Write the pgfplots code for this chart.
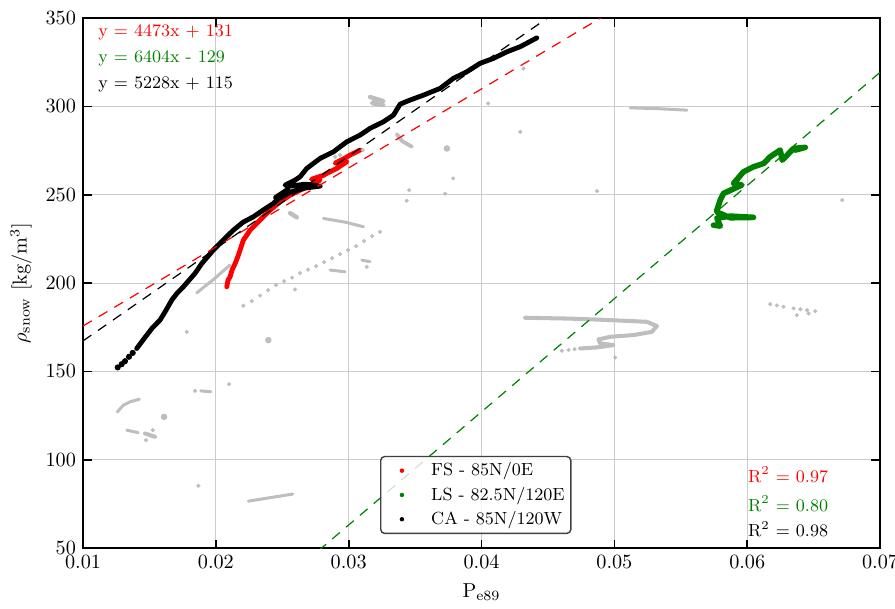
\documentclass[border=0pt]{standalone}
\usepackage{pgfplots}
\pgfplotsset{compat=1.18}
\definecolor{ptgray}{RGB}{190,190,190}
\definecolor{ptgreen}{RGB}{0,128,0}
\newcommand\lbl{\fontsize{8.7}{10.4}\selectfont}
\begin{document}
\begin{tikzpicture}
\useasboundingbox (-41.1pt,-29.7pt) rectangle (401.9pt,271.3pt);
\begin{axis}[
  at={(0pt,0pt)}, anchor=south west,
  scale only axis, width=394.5pt, height=262.35pt,
  xmin=0.01, xmax=0.07, ymin=50, ymax=350,
  xtick={0.01,0.02,0.03,0.04,0.05,0.06,0.07},
  xticklabels={0.01,0.02,0.03,0.04,0.05,0.06,0.07},
  ytick={50,100,150,200,250,300,350},
  scaled ticks=false,
  grid=major, major grid style={black!20, line width=0.6pt},
  axis line style={line width=1pt},
  tick style={black, line width=0.8pt},
  xlabel={P$_{\mathrm{e89}}$}, ylabel={$\rho_{\mathrm{snow}}$ [kg/m$^3$]},
  legend style={at={(0.3726,0.0264)}, anchor=south west, draw=black!75, rounded corners=2pt,
    fill=white, fill opacity=0.8, text opacity=1, draw opacity=1, font=\lbl,
    inner sep=1.5pt, nodes={inner sep=1.5pt}, row sep=1pt, line width=0.7pt},
  legend cell align=left,
  legend image code/.code={\path[draw=none, fill=none] (0pt,-0.5pt) rectangle (22pt,0.5pt); \fill[#1, draw=none, fill opacity=1] (9pt,0pt) circle (1.1pt);},
  grayseg/.style={ptgray, line width=1.5pt, line cap=round, line join=round, mark=none, forget plot},
  graydot/.style={ptgray, only marks, mark=*, mark size=0.8pt, forget plot},
]
% ---- gray background data ----
\addplot[grayseg] coordinates {(0.01856,194.5)(0.01919,198.3)(0.01994,202.8)(0.02054,206.8)(0.02107,210.2)};
\addplot[graydot] coordinates {(0.02207,187.2)(0.02270,189.8)(0.02333,192.9)(0.02393,196.0)(0.02453,198.9)(0.02514,201.1)(0.02574,203.1)(0.02634,205.7)(0.02694,207.6)(0.02755,209.6)(0.02815,211.9)(0.02875,214.1)(0.02935,216.4)(0.02995,218.7)(0.03056,220.9)(0.03116,223.8)(0.03176,226.6)(0.03236,229.0)};
\addplot[grayseg] coordinates {(0.02810,236.6)(0.02973,234.5)(0.03111,231.9)};
\addplot[grayseg, line width=2.2pt] coordinates {(0.02559,239.6)(0.02609,237.2)};
\addplot[grayseg] coordinates {(0.02258,237.5)(0.02333,238.5)};
\addplot[grayseg] coordinates {(0.02860,207.4)(0.02973,206.4)};
\addplot[grayseg] coordinates {(0.03099,213.0)(0.03161,212.1)};
\addplot[grayseg, line width=2.2pt] coordinates {(0.03161,305.3)(0.03261,303.0)(0.03176,301.9)(0.03259,300.8)};
\addplot[grayseg, line width=1.9pt] coordinates {(0.03362,284.3)(0.03402,280.4)(0.03475,277.2)};
\addplot[graydot, mark size=1.4pt] coordinates {(0.03739,276.2)(0.02395,167.7)(0.01610,124.3)};
\addplot[graydot] coordinates {(0.04316,321.5)(0.04050,301.7)(0.04291,285.6)(0.03786,259.3)(0.03455,252.6)(0.03726,250.6)(0.03437,246.6)(0.04870,252.1)(0.02935,272.5)(0.02898,271.5)(0.03106,275.3)(0.02596,196.4)(0.01781,172.4)(0.06715,247.0)(0.01843,139.0)(0.02099,142.8)(0.01868,85.3)(0.05006,157.9)(0.03136,209.2)(0.01474,111.1)(0.01525,116.8)};
\addplot[grayseg] coordinates {(0.05119,299.2)(0.05307,298.8)(0.05546,297.9)};
\addplot[grayseg, line width=2pt] coordinates {(0.04328,180.4)(0.04667,179.9)(0.04893,179.3)(0.05245,178.1)(0.05320,175.7)(0.05282,172.4)(0.05144,170.6)(0.04968,169.6)(0.04880,168.1)(0.04893,165.9)(0.04993,164.9)(0.04868,163.6)(0.04742,163.0)};
\addplot[graydot] coordinates {(0.04700,162.6)(0.04655,162.2)(0.04605,161.7)(0.06173,188.1)(0.06223,187.4)(0.06273,186.6)(0.06349,185.7)(0.06400,185.2)(0.06450,184.7)(0.06512,184.1)(0.06374,181.9)(0.06462,182.8)};
\addplot[grayseg] coordinates {(0.01258,127.1)(0.01303,130.9)(0.01354,132.8)(0.01424,134.3)};
\addplot[grayseg] coordinates {(0.01886,139.0)(0.01962,138.5)};
\addplot[grayseg] coordinates {(0.01329,116.8)(0.01416,115.3)};
\addplot[grayseg, line width=2pt] coordinates {(0.01467,114.9)(0.01542,113.0)};
\addplot[grayseg] coordinates {(0.02245,76.6)(0.02579,80.6)};
% ---- FS ----
\addplot[red, line width=2.4pt, line join=round, line cap=round] coordinates {
(0.02082,197.9)(0.02092,201.7)(0.02107,203.6)(0.02122,207.4)(0.02145,211.1)(0.02167,215.3)(0.02182,218.7)(0.02207,224.3)(0.02258,230.0)(0.02295,232.8)(0.02333,235.7)(0.02408,241.3)(0.02483,246.0)(0.02559,249.8)(0.02634,252.6)(0.02709,255.5)(0.02785,258.3)(0.02720,258.8)(0.02810,261.0)(0.02835,262.1)(0.02910,264.9)(0.02986,268.7)(0.02898,267.9)(0.02973,270.8)(0.03011,272.5)(0.03086,275.3)};
\addlegendentry{FS - 85N/0E}
% ---- LS ----
\addplot[ptgreen, line width=2.8pt, line join=round, line cap=round] coordinates {
(0.05746,232.8)(0.05797,232.3)(0.05772,236.8)(0.05872,237.9)(0.06047,237.2)(0.05872,237.0)(0.05772,240.2)(0.05772,241.3)(0.05797,247.0)(0.05822,250.8)(0.05960,255.5)(0.05897,256.4)(0.05972,263.0)(0.06047,265.8)(0.06123,267.7)(0.06173,271.5)(0.06248,275.3)(0.06264,269.6)(0.06349,276.2)(0.06437,276.8)(0.06361,275.3)};
\addlegendentry{LS - 82.5N/120E}
% ---- CA ----
\addplot[black, only marks, mark=*, mark size=1.3pt, forget plot] coordinates {(0.01261,152.3)(0.01291,154.1)(0.01316,155.8)(0.01346,158.3)(0.01374,160.5)};
\addplot[black, line width=2.4pt, line join=round, line cap=round] coordinates {
(0.01404,163.0)(0.01467,169.3)(0.01520,174.5)(0.01580,179.1)(0.01625,184.7)(0.01668,190.4)(0.01708,194.3)(0.01755,197.9)(0.01806,202.3)(0.01843,205.5)(0.01894,211.1)(0.01981,218.7)(0.02054,224.3)(0.02132,230.0)(0.02205,234.5)(0.02282,237.5)(0.02355,241.3)(0.02433,245.1)(0.02500,250.0)(0.02450,248.5)(0.02540,253.0)(0.02483,248.1)(0.02559,251.5)(0.02672,253.8)(0.02785,254.9)(0.02672,256.0)(0.02559,254.9)(0.02521,255.5)(0.02596,258.3)(0.02634,260.2)(0.02684,264.9)(0.02785,270.6)(0.02885,274.3)(0.02986,280.0)(0.03086,283.8)(0.03161,287.6)(0.03261,291.3)(0.03337,295.1)(0.03387,301.3)(0.03462,303.6)(0.03563,306.4)(0.03688,310.2)(0.03788,315.9)(0.03889,319.6)(0.03989,324.4)(0.04090,327.2)(0.04190,330.9)(0.04291,333.8)(0.04416,338.8)};
\addlegendentry{CA - 85N/120W}
% ---- fits ----
\addplot[red, dash pattern=on 5pt off 4pt, line width=0.6pt, forget plot] coordinates {(0.01,175.73)(0.07,444.11)};
\addplot[black, dash pattern=on 5pt off 4pt, line width=0.6pt, forget plot] coordinates {(0.01,167.28)(0.07,480.96)};
\addplot[ptgreen, dash pattern=on 5pt off 4pt, line width=0.6pt, forget plot] coordinates {(0.01,-64.96)(0.07,319.28)};
% ---- texts ----
\node[anchor=west, inner sep=0pt, text=red, font=\lbl] at (rel axis cs:0.0188,0.973) {y = 4473x + 131};
\node[anchor=west, inner sep=0pt, text=ptgreen, font=\lbl] at (rel axis cs:0.0188,0.924) {y = 6404x - 129};
\node[anchor=west, inner sep=0pt, text=black, font=\lbl] at (rel axis cs:0.0188,0.874) {y = 5228x + 115};
\node[anchor=west, inner sep=0pt, text=red, font=\lbl] at (rel axis cs:0.834,0.1377) {R$^2$ = 0.97};
\node[anchor=west, inner sep=0pt, text=ptgreen, font=\lbl] at (rel axis cs:0.834,0.0843) {R$^2$ = 0.80};
\node[anchor=west, inner sep=0pt, text=black, font=\lbl] at (rel axis cs:0.834,0.0353) {R$^2$ = 0.98};
\end{axis}
\end{tikzpicture}
\end{document}
